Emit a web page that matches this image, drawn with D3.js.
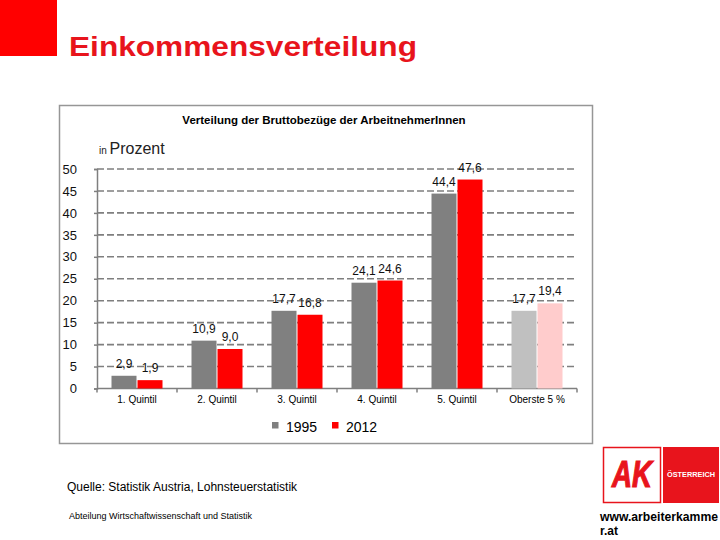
<!DOCTYPE html>
<html><head><meta charset="utf-8">
<script src="https://cdn.jsdelivr.net/npm/d3@7"></script>
<style>html,body{margin:0;padding:0;background:#fff;}svg{display:block;font-family:"Liberation Sans",Arial,sans-serif;}</style>
</head><body>
<svg id="c" width="720" height="540"></svg>
<script>
const categories = ["1. Quintil","2. Quintil","3. Quintil","4. Quintil","5. Quintil","Oberste 5 %"];
const series = ["1995","2012"];
const values1995 = [2.9, 10.9, 17.7, 24.1, 44.4, 17.7];
const values2012 = [1.9, 9.0, 16.8, 24.6, 47.6, 19.4];
const labels1995 = ["2,9","10,9","17,7","24,1","44,4","17,7"];
const labels2012 = ["1,9","9,0","16,8","24,6","47,6","19,4"];
const yTicks = [0,5,10,15,20,25,30,35,40,45,50];

const svg = d3.select("#c");
const red = "#ff0000";

// header
svg.append("rect").attr("x",0).attr("y",0).attr("width",57).attr("height",56).attr("fill","#ff0000");
svg.append("text").attr("x",69).attr("y",56).attr("font-size",28).attr("font-weight","bold")
  .attr("fill","#e8141c").attr("textLength",348).attr("lengthAdjust","spacingAndGlyphs").text("Einkommensverteilung");

// chart frame
svg.append("rect").attr("x",59.5).attr("y",105.5).attr("width",533).attr("height",338)
  .attr("fill","#fff").attr("stroke","#969696").attr("stroke-width",1.5);

svg.append("text").attr("x",324).attr("y",124).attr("text-anchor","middle").attr("font-size",11.5)
  .attr("font-weight","bold").attr("fill","#000").text("Verteilung der Bruttobezüge der ArbeitnehmerInnen");

const ip = svg.append("text").attr("x",99).attr("y",154).attr("fill","#222");
ip.append("tspan").attr("font-size",10).text("in ");
ip.append("tspan").attr("font-size",16).text("Prozent");

const x0 = d3.scaleBand().domain(categories).range([97,577]).paddingInner(0.35).paddingOuter(0.175);
const x1 = d3.scaleBand().domain(series).range([0,x0.bandwidth()]).padding(0);
const y = d3.scaleLinear().domain([0,50]).range([388.5,169]);

// gridlines
svg.append("g").selectAll("line").data(yTicks.filter(d=>d>0)).join("line")
  .attr("x1",97).attr("x2",577).attr("y1",d=>y(d)).attr("y2",d=>y(d))
  .attr("stroke","#7f7f7f").attr("stroke-width",1.6).attr("stroke-dasharray","7,3");

// y axis
const yAxis = svg.append("g").attr("transform","translate(97,0)")
  .call(d3.axisLeft(y).tickValues(yTicks).tickSize(3).tickPadding(17).tickFormat(d3.format("d")));
yAxis.select(".domain").attr("stroke","#7f7f7f").attr("stroke-width",1.5);
yAxis.selectAll(".tick line").attr("stroke","#7f7f7f").attr("stroke-width",1.5);
yAxis.selectAll(".tick text").attr("font-size",13).attr("fill","#111").attr("font-family","Liberation Sans, Arial, sans-serif");

// x axis
const xAxisG = svg.append("g");
xAxisG.append("line").attr("x1",97).attr("x2",577).attr("y1",y(0)).attr("y2",y(0)).attr("stroke","#7f7f7f").attr("stroke-width",1.5);
const bounds = categories.map(c=>x0(c)-x0.step()*x0.paddingInner()/2).concat([577]);
xAxisG.selectAll("line.bt").data(bounds).join("line").attr("class","bt")
  .attr("x1",d=>d).attr("x2",d=>d).attr("y1",y(0)).attr("y2",y(0)+4).attr("stroke","#7f7f7f").attr("stroke-width",1.5);
xAxisG.selectAll("text").data(categories).join("text")
  .attr("x",d=>x0(d)+x0.bandwidth()/2).attr("y",403).attr("text-anchor","middle")
  .attr("font-size",10).attr("fill","#000").text(d=>d);

// bars
const data = categories.map((c,i)=>({c, i, v:[values1995[i],values2012[i]], l:[labels1995[i],labels2012[i]]}));
const colorFor = (s,i) => {
  if (categories[i]==="Oberste 5 %") return s==="1995" ? "#c0c0c0" : "#ffcccc";
  return s==="1995" ? "#808080" : red;
};
const groups = svg.append("g").selectAll("g").data(data).join("g")
  .attr("transform",d=>`translate(${x0(d.c)},0)`);
groups.selectAll("rect").data(d=>series.map((s,k)=>({s,v:d.v[k],i:d.i}))).join("rect")
  .attr("x",d=>x1(d.s)+0.5).attr("width",x1.bandwidth()-1)
  .attr("y",d=>y(d.v)).attr("height",d=>y(0)-y(d.v))
  .attr("fill",d=>colorFor(d.s,d.i));
groups.selectAll("text").data(d=>series.map((s,k)=>({s,v:d.v[k],l:d.l[k]}))).join("text")
  .attr("x",d=>x1(d.s)+x1.bandwidth()/2).attr("y",d=>y(d.v)-8)
  .attr("text-anchor","middle").attr("font-size",12).attr("fill","#111").text(d=>d.l);

// legend
const leg = svg.append("g");
const legItems = [{s:"1995",c:"#808080",x:272},{s:"2012",c:red,x:332}];
legItems.forEach(it=>{
  leg.append("rect").attr("x",it.x).attr("y",422).attr("width",6.5).attr("height",6.5).attr("fill",it.c);
  leg.append("text").attr("x",it.x+14).attr("y",432).attr("font-size",14).attr("fill","#000").text(it.s);
});

// footer
svg.append("text").attr("x",67).attr("y",491).attr("font-size",12).attr("fill","#000")
  .text("Quelle: Statistik Austria, Lohnsteuerstatistik");
svg.append("text").attr("x",69).attr("y",519).attr("font-size",9).attr("fill","#000")
  .text("Abteilung Wirtschaftwissenschaft und Statistik");

// logo
svg.append("rect").attr("x",603.5).attr("y",447.5).attr("width",57).attr("height",55).attr("fill","#fff").attr("stroke","#e8141c").attr("stroke-width",1.5);
svg.append("text").attr("x",632).attr("y",487).attr("text-anchor","middle").attr("font-size",36).attr("font-weight","bold")
  .attr("font-style","italic").attr("fill","#e8141c").attr("stroke","#e8141c").attr("stroke-width",1.2)
  .attr("textLength",40).attr("lengthAdjust","spacingAndGlyphs").text("AK");
svg.append("rect").attr("x",663).attr("y",447).attr("width",56).attr("height",56).attr("fill","#e8141c");
svg.append("text").attr("x",691).attr("y",477).attr("text-anchor","middle").attr("font-size",8).attr("font-weight","bold")
  .attr("fill","#fff").attr("textLength",48).attr("lengthAdjust","spacingAndGlyphs").text("ÖSTERREICH");
svg.append("text").attr("x",600).attr("y",521).attr("font-size",12).attr("font-weight","bold").attr("fill","#000")
  .attr("textLength",118).attr("lengthAdjust","spacingAndGlyphs").text("www.arbeiterkamme");
svg.append("text").attr("x",600).attr("y",535).attr("font-size",12).attr("font-weight","bold").attr("fill","#000").text("r.at");
</script>
</body></html>
